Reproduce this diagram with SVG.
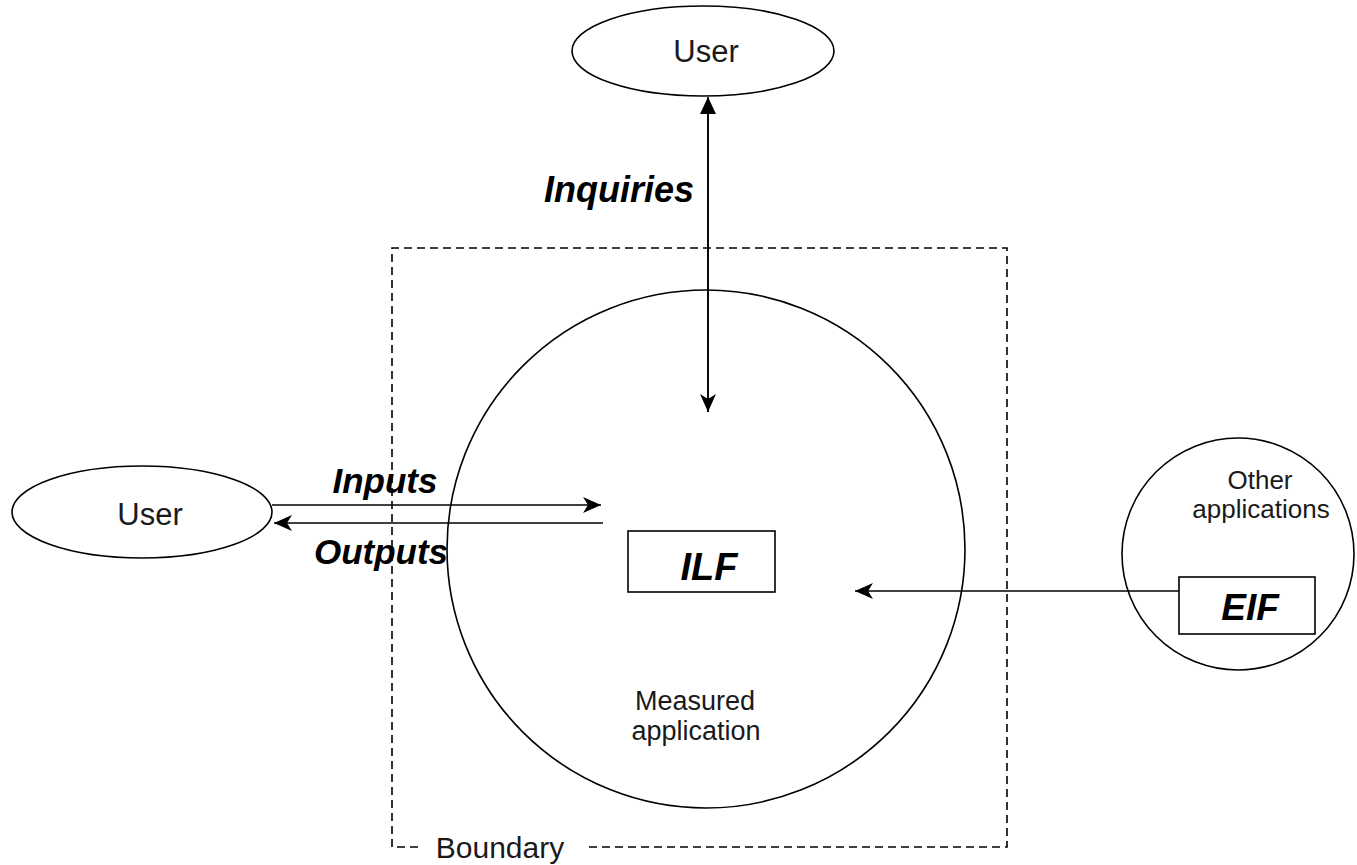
<svg xmlns="http://www.w3.org/2000/svg" width="1357" height="865" viewBox="0 0 1357 865">
<style>
.ln{fill:none;stroke:#000;stroke-width:1.6}
.sh{fill:#fff;stroke:#000;stroke-width:1.6}
.t{font-family:"Liberation Sans",Arial,sans-serif;fill:#1a1a1a;text-anchor:middle}
.b{font-family:"Liberation Sans",Arial,sans-serif;font-weight:bold;font-style:italic;fill:#000;text-anchor:middle}
</style>
<defs>
<marker id="tri" markerWidth="18" markerHeight="20" refX="17" refY="8" orient="auto" markerUnits="userSpaceOnUse">
<path d="M0,0 L17,8 L0,16 Z" fill="#000"/>
</marker>
<marker id="barb" markerWidth="20" markerHeight="20" refX="18" refY="8" orient="auto" markerUnits="userSpaceOnUse">
<path d="M0,0 L18,8 L0,16 L5,8 Z" fill="#000"/>
</marker>
</defs>
<rect width="1357" height="865" fill="#fff"/>
<g id="boundary">
<path class="ln" stroke-dasharray="8,5" d="M418,847 L392,847 L392,248 L1007,248 L1007,847 L588,847"/>
<text class="t" x="500" y="858" font-size="30">Boundary</text>
</g>
<g id="measured-application">
<circle class="sh" cx="706" cy="549" r="259" fill="none"/>
<text class="t" x="695" y="710" font-size="27">Measured</text>
<text class="t" x="696" y="740" font-size="27">application</text>
</g>
<g id="ilf">
<rect class="sh" x="628" y="531" width="147" height="61"/>
<text class="b" x="709" y="580" font-size="38">ILF</text>
</g>
<g id="other-applications">
<circle class="sh" cx="1238" cy="554" r="116"/>
<text class="t" x="1260" y="489" font-size="26">Other</text>
<text class="t" x="1261" y="518" font-size="26">applications</text>
</g>
<g id="eif">
<rect class="sh" x="1179" y="577" width="136" height="57"/>
<text class="b" x="1250" y="620" font-size="37">EIF</text>
</g>
<g id="user-top">
<ellipse class="sh" cx="703" cy="51" rx="131" ry="45"/>
<text class="t" x="706" y="62" font-size="31">User</text>
</g>
<g id="user-left">
<ellipse class="sh" cx="142" cy="512" rx="130" ry="46"/>
<text class="t" x="150" y="525" font-size="31">User</text>
</g>
<g id="connectors">
<line class="ln" x1="708" y1="412" x2="708" y2="97" marker-end="url(#tri)"/>
<line class="ln" x1="708" y1="110" x2="708" y2="412" marker-end="url(#barb)"/>
<line class="ln" x1="272" y1="505" x2="601" y2="505" marker-end="url(#barb)"/>
<line class="ln" x1="603" y1="523" x2="274" y2="523" marker-end="url(#barb)"/>
<line class="ln" x1="1179" y1="591" x2="855" y2="591" marker-end="url(#barb)"/>
<text class="b" x="619" y="202" font-size="36">Inquiries</text>
<text class="b" x="385" y="493" font-size="35">Inputs</text>
<text class="b" x="381" y="564" font-size="35">Outputs</text>
</g>
</svg>
